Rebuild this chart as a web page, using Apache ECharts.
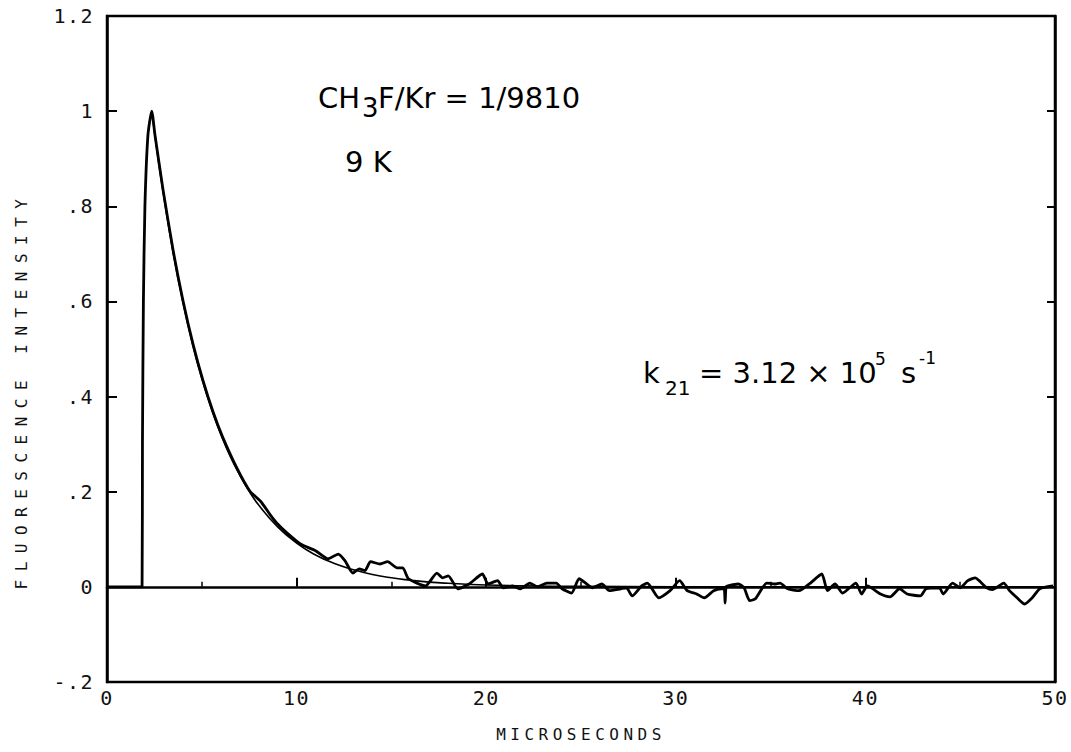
<!DOCTYPE html>
<html>
<head>
<meta charset="utf-8">
<script src="https://cdn.jsdelivr.net/npm/echarts@6/dist/echarts.min.js"></script>
<style>
  html, body { margin: 0; padding: 0; background: #fff; }
  #chart { width: 1071px; height: 752px; }
  svg text[style*="ticklbl"] { letter-spacing: 1.5px; }
  svg text[style*="xtitle"] { letter-spacing: 4.5px; }
  svg text[style*="ytitle"] { letter-spacing: 8.5px; }
</style>
</head>
<body>
<div id="chart"></div>
<script>
// ---- data ----
const dataT = [0, 1.85, 1.87, 1.92, 2.0, 2.16, 2.36, 2.53, 2.95, 3.48, 4.0, 4.55, 5.06, 5.6, 6.1, 6.86, 7.54, 8.1, 8.6, 9.0, 9.5,
  10.2, 11.0, 11.65, 12.2, 12.55, 12.97, 13.3, 13.6, 13.9, 14.4, 14.8, 15.3, 15.6, 15.9, 16.8, 17.4, 17.7, 18.0, 18.5,
  19.1, 19.8, 20.1, 20.6, 20.9, 21.4, 21.8, 22.3, 22.7, 23.2, 23.7, 24.0, 24.5, 24.9, 25.3, 25.6, 26.1, 26.5, 27.1, 27.4,
  27.7, 28.2, 28.5, 29.1, 29.7, 30.2, 30.6, 31.1, 31.5, 32.0, 32.4, 32.55, 32.6, 32.65, 32.75, 33.3, 33.6, 33.9, 34.2, 34.8,
  35.2, 35.5, 35.9, 36.5, 37.1, 37.7, 38.0, 38.4, 38.8, 39.5, 39.8, 40.1, 40.8, 41.3, 41.8, 42.2, 42.9, 43.2, 43.9, 44.1,
  44.6, 45.0, 45.4, 45.8, 46.0, 46.4, 46.7, 47.3, 47.6, 48.0, 48.4, 48.8, 49.2, 49.9];
const dataV = [0, 0, 0.30, 0.60, 0.80, 0.95, 1.0, 0.950, 0.836, 0.709, 0.603, 0.508, 0.434, 0.367, 0.315, 0.249, 0.201, 0.180, 0.152, 0.132, 0.113,
  0.090, 0.076, 0.059, 0.069, 0.055, 0.029, 0.038, 0.034, 0.053, 0.048, 0.053, 0.040, 0.040, 0.017, 0.002, 0.029, 0.019, 0.023, -0.004,
  0.006, 0.027, 0.006, 0.013, -0.002, 0.002, -0.004, 0.008, 0, 0.008, 0.008, -0.004, -0.013, 0.017, 0.006, -0.002, 0.006, -0.008, -0.004, -0.002,
  -0.019, 0.002, 0.008, -0.023, -0.008, 0.013, -0.008, -0.015, -0.023, -0.008, -0.004, -0.004, -0.034, 0.0, 0.002, 0.006, -0.002, -0.029, -0.025, 0.008,
  0.006, 0.008, -0.004, -0.008, 0.008, 0.027, -0.008, 0.006, -0.013, 0.008, -0.015, 0.002, -0.015, -0.021, -0.004, -0.015, -0.019, -0.004, -0.002, -0.015,
  0.008, -0.002, 0.013, 0.019, 0.013, -0.002, -0.006, 0.008, -0.008, -0.023, -0.036, -0.023, -0.004, 0.002];

const fitT = [2.36, 2.7, 3, 3.5, 4, 4.5, 5, 5.5, 6, 6.5, 7, 7.5, 8, 9, 10, 11, 12, 13, 14, 15, 16, 17, 18, 20, 22, 25, 30, 35, 40, 45, 50];
const fitV = [1.0, 0.899, 0.819, 0.700, 0.599, 0.512, 0.438, 0.375, 0.321, 0.274, 0.235, 0.201, 0.172, 0.126, 0.092, 0.067, 0.049, 0.036, 0.026, 0.019, 0.014, 0.010, 0.0075, 0.004, 0.0022, 0.001, 0.0002, 0, 0, 0, 0];

const yTickValues = [-0.2, 0, 0.2, 0.4, 0.6, 0.8, 1.0, 1.2];
const yTickLabels = ['-.2', '0', '.2', '.4', '.6', '.8', '1', '1.2'];
const xTickLabels = ['0', '10', '20', '30', '40', '50'];

const xTitle = 'MICROSECONDS';
const yTitle = 'FLUORESCENCE INTENSITY';

// ---- chart ----
const chart = echarts.init(document.getElementById('chart'), null, { renderer: 'svg' });

const tickFont = "'DejaVu Sans Mono', ticklbl";
const annFont = "'DejaVu Sans', sans-serif";

function yLabel(v) {
  for (let i = 0; i < yTickValues.length; i++) {
    if (Math.abs(yTickValues[i] - v) < 1e-6) return yTickLabels[i];
  }
  return '';
}
function xLabel(v) {
  const i = Math.round(v / 10);
  return xTickLabels[i] !== undefined ? xTickLabels[i] : '';
}

// annotation piece: x = left edge, y = vertical centre of the glyphs
function ann(text, x, y, size) {
  return {
    type: 'text', x: x, y: y,
    style: { text: text, fontFamily: annFont, fontSize: size, fill: '#000', align: 'left', verticalAlign: 'middle' }
  };
}

const axisLineStyle = { color: '#000', width: 2.5 };

const option = {
  animation: false,
  backgroundColor: '#fff',
  grid: { left: 107, right: 16, top: 16, bottom: 70, show: true, borderColor: '#000', borderWidth: 2.5 },
  xAxis: {
    type: 'value', min: 0, max: 50, interval: 10,
    name: xTitle, nameLocation: 'middle', nameGap: 44,
    nameTextStyle: { fontFamily: "'DejaVu Sans Mono', xtitle", fontSize: 16, color: '#111' },
    axisLine: { show: true, lineStyle: axisLineStyle },
    axisTick: { show: true, inside: true, length: 9, lineStyle: { color: '#000', width: 2 } },
    minorTick: { show: true, splitNumber: 2, length: 5, lineStyle: { color: '#000', width: 1.5 } },
    axisLabel: { formatter: xLabel, fontFamily: tickFont, fontSize: 20, color: '#111', margin: 6 },
    splitLine: { show: false }
  },
  yAxis: [{
    type: 'value', min: -0.2, max: 1.2, interval: 0.2,
    name: yTitle, nameLocation: 'middle', nameGap: 78,
    nameTextStyle: { fontFamily: "'DejaVu Sans Mono', ytitle", fontSize: 16, color: '#111', padding: [0, 82, 0, 0] },
    axisLine: { show: true, lineStyle: axisLineStyle },
    axisTick: { show: true, inside: true, length: 10, lineStyle: { color: '#000', width: 2 } },
    axisLabel: { formatter: yLabel, fontFamily: tickFont, fontSize: 20, color: '#111', margin: 13 },
    splitLine: { show: false }
  }, {
    type: 'value', min: -0.2, max: 1.2, interval: 0.2, position: 'right',
    axisLine: { show: true, lineStyle: axisLineStyle },
    axisTick: { show: true, inside: true, length: 8, lineStyle: { color: '#000', width: 2 } },
    axisLabel: { show: false },
    splitLine: { show: false }
  }],
  series: [{
    name: 'fit', type: 'line', smooth: true, showSymbol: false,
    data: fitT.map((t, i) => [t, fitV[i]]),
    lineStyle: { color: '#000', width: 1.6 }, z: 3
  }, {
    name: 'data', type: 'line', showSymbol: false, smooth: 0.2,
    data: dataT.map((t, i) => [t, dataV[i]]),
    lineStyle: { color: '#000', width: 2.8, join: 'round' }, z: 2
  }],
  graphic: [
    ann('CH', 318, 98, 29),
    ann('3', 362, 108, 26),
    ann('F/Kr = 1/9810', 378, 98, 29),
    ann('9 K', 345, 162, 29),
    ann('k', 643, 373, 29),
    ann('21', 665, 388, 20),
    ann('= 3.12 × 10', 699, 373, 29),
    ann('5', 875, 359, 17),
    ann('s', 901, 373, 29),
    ann('-1', 919, 358, 17)
  ]
};
chart.setOption(option);
</script>
</body>
</html>
